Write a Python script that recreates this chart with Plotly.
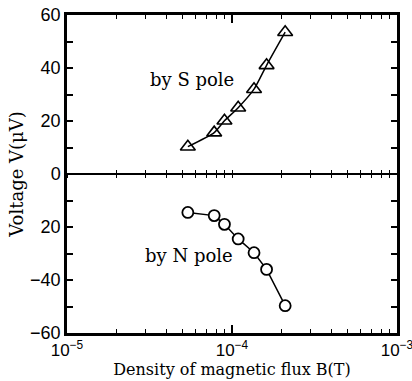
import plotly.graph_objects as go

# Data
b_field = [5.4e-5, 7.8e-5, 9.0e-5, 1.09e-4, 1.36e-4, 1.62e-4, 2.1e-4]
v_s_pole = [10.3, 15.6, 20.1, 25.0, 32.0, 41.0, 53.5]
v_n_pole = [-14.5, -15.7, -19.0, -24.5, -29.7, -36.0, -49.7]

x_major = [1e-5, 1e-4, 1e-3]
x_major_text = ["10<sup>−5</sup>", "10<sup>−4</sup>", "10<sup>−3</sup>"]
x_minor = [m * 10 ** d for d in (-5, -4) for m in range(2, 10)]
y_major = [-60, -40, -20, 0, 20, 40, 60]
y_major_text = ["−60", "−40", "20", "0", "20", "40", "60"]
y_minor = [-50, -30, -10, 10, 30, 50]

SERIF = "DejaVu Serif"
SANS = "Liberation Sans"

fig = go.Figure()
fig.add_trace(go.Scatter(
    x=b_field, y=v_s_pole, mode="lines+markers",
    line=dict(color="black", width=1.5, shape="spline", smoothing=0.6),
    marker=dict(symbol="triangle-up-open", size=13, color="black", line=dict(width=1.6)),
    showlegend=False,
))
fig.add_trace(go.Scatter(
    x=b_field, y=v_n_pole, mode="lines+markers",
    line=dict(color="black", width=1.5),
    marker=dict(symbol="circle", size=11, color="white", line=dict(width=1.8, color="black")),
    showlegend=False,
))
# empty traces so the extra tick axes are drawn
fig.add_trace(go.Scatter(x=[], y=[], xaxis="x2", yaxis="y", showlegend=False))
fig.add_trace(go.Scatter(x=[], y=[], xaxis="x3", yaxis="y", showlegend=False))
fig.add_trace(go.Scatter(x=[], y=[], xaxis="x4", yaxis="y", showlegend=False))
fig.add_trace(go.Scatter(x=[], y=[], xaxis="x", yaxis="y2", showlegend=False))

fig.add_hline(y=0, line=dict(color="black", width=2), layer="below")

axis_common = dict(showgrid=False, zeroline=False, color="black")
x_common = dict(type="log", range=[-5, -3], tickmode="array", **axis_common)

fig.update_layout(
    width=412, height=381,
    margin=dict(l=67, r=15, t=15, b=48),
    paper_bgcolor="white", plot_bgcolor="white",
    xaxis=dict(
        tickvals=x_major, ticktext=x_major_text,
        ticks="inside", ticklen=8, tickwidth=1.5,
        showline=True, linewidth=2.5, linecolor="black", mirror="ticks",
        tickfont=dict(family=SANS, size=17, color="black"),
        ticklabeloverflow="allow", automargin=False,
        title=dict(text="Density of magnetic flux B(T)", font=dict(family=SERIF, size=16, color="black"), standoff=2),
        **x_common,
    ),
    xaxis4=dict(
        overlaying="x", anchor="y", tickvals=x_minor, ticks="inside", ticklen=4, tickwidth=1.3,
        showticklabels=False, showline=True, linewidth=2.5, linecolor="black", mirror="ticks",
        **x_common,
    ),
    xaxis2=dict(
        overlaying="x", anchor="free", position=0.5,
        tickvals=x_major + x_minor, ticks="inside", ticklen=4, tickwidth=1.4,
        showticklabels=False, showline=False,
        **x_common,
    ),
    xaxis3=dict(
        overlaying="x", anchor="free", position=0.5,
        tickvals=x_major + x_minor, ticks="outside", ticklen=3, tickwidth=1.4,
        showticklabels=False, showline=False,
        **x_common,
    ),
    yaxis=dict(
        range=[-60, 60], tickmode="array", tickvals=y_major, ticktext=y_major_text,
        ticks="inside", ticklen=6, tickwidth=1.5,
        showline=True, linewidth=2.5, linecolor="black", mirror="ticks",
        tickfont=dict(family=SANS, size=18, color="black"),
        automargin=False,
        title=dict(text="Voltage V(μV)", font=dict(family=SERIF, size=18, color="black"), standoff=2),
        **axis_common,
    ),
    yaxis2=dict(
        range=[-60, 60], overlaying="y", anchor="x", tickmode="array", tickvals=y_minor,
        ticks="inside", ticklen=6, tickwidth=1.5, showticklabels=False,
        showline=True, linewidth=2.5, linecolor="black", mirror="ticks",
        **axis_common,
    ),
    annotations=[
        dict(x=-4.244, y=35.8, xref="x", yref="y", text="by S pole", showarrow=False,
             font=dict(family=SERIF, size=18, color="black")),
        dict(x=-4.262, y=-30.9, xref="x", yref="y", text="by N pole", showarrow=False,
             font=dict(family=SERIF, size=18, color="black")),
    ],
)

fig.write_html("out.html")
